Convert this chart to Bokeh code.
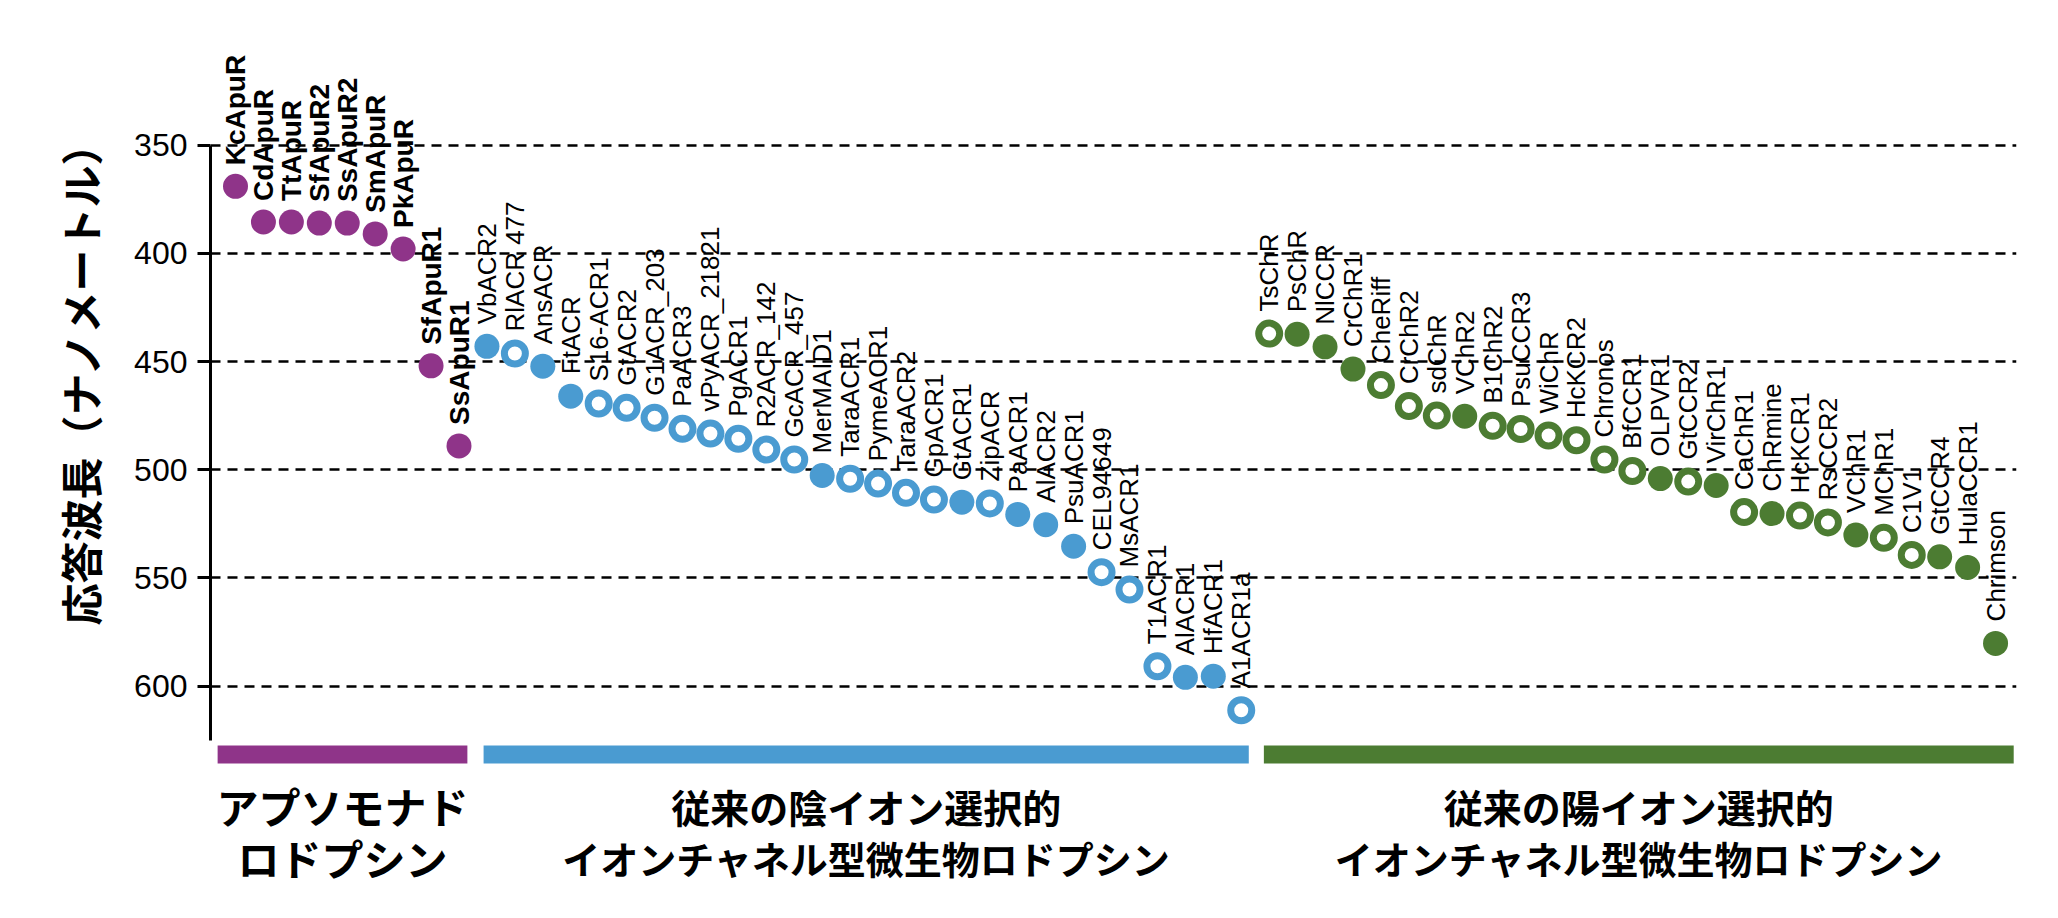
import numpy as np
from bokeh.plotting import figure
from bokeh.models import ColumnDataSource, Range1d, Title
from bokeh.core.properties import value
from bokeh.embed import file_html
from bokeh.resources import INLINE

# ---------------- data ----------------
apu_names = ["KcApuR", "CdApuR", "TtApuR", "SfApuR2", "SsApuR2", "SmApuR", "PkApuR", "SfApuR1", "SsApuR1"]
apu_nm = [369, 385.5, 385.5, 386, 386, 391, 398, 452, 489]
apu_filled = [1, 1, 1, 1, 1, 1, 1, 1, 1]

acr_names = ["VbACR2", "RlACR 477", "AnsACR", "FtACR", "S16-ACR1", "GtACR2", "G1ACR_203", "PaACR3",
             "vPyACR_21821", "PgACR1", "R2ACR_142", "GcACR_457", "MerMAID1", "TaraACR1", "PymeACR1",
             "TaraACR2", "GpACR1", "GtACR1", "ZipACR", "PaACR1", "AlACR2", "PsuACR1", "CEL94649",
             "MsACR1", "T1ACR1", "AlACR1", "HfACR1", "A1ACR1a"]
acr_nm = [443, 446.3, 452.2, 466, 469.4, 471.4, 476, 481.1, 483.3, 485.7, 490.7, 495.3, 502.7, 504.2,
          506.4, 510.7, 513.8, 515, 515.6, 520.7, 525.4, 535.4, 547.4, 555.4, 590.9, 596, 595.5, 611.2]
acr_filled = [1, 0, 1, 1, 0, 0, 0, 0, 0, 0, 0, 0, 1, 0, 0, 0, 0, 1, 0, 1, 1, 1, 0, 0, 0, 1, 1, 0]

ccr_names = ["TsChR", "PsChR", "NlCCR", "CrChR1", "CheRiff", "CrChR2", "sdChR", "VChR2", "B1ChR2",
             "PsuCCR3", "WiChR", "HcKCR2", "Chronos", "BfCCR1", "OLPVR1", "GtCCR2", "VirChR1", "CaChR1",
             "ChRmine", "HcKCR1", "RsCCR2", "VChR1", "MChR1", "C1V1", "GtCCR4", "HulaCCR1", "Chrimson"]
ccr_nm = [437.1, 437.4, 443.2, 453.5, 460.9, 470.6, 475, 475.3, 479.7, 481.2, 484.2, 486.4, 495.3,
          500.6, 504.1, 505.5, 507.3, 519.6, 520.3, 521.2, 524.4, 530.2, 531.5, 539.4, 540.3, 545.2, 580.3]
ccr_filled = [0, 1, 1, 1, 0, 0, 0, 1, 0, 0, 0, 0, 0, 0, 1, 0, 1, 0, 1, 0, 0, 1, 0, 0, 1, 1, 1]

group_line1 = ["アプソモナド", "従来の陰イオン選択的", "従来の陽イオン選択的"]
group_line2 = ["ロドプシン", "イオンチャネル型微生物ロドプシン", "イオンチャネル型微生物ロドプシン"]
y_ticks = [350, 400, 450, 500, 550, 600]
y_title = "応答波長（ナノメートル）"

# ---------------- style ----------------
colors = ["#8F3489", "#4A9BD1", "#4C7C32"]
bar_pad = [(-0.64, 0.30), (-0.12, 0.27), (-0.19, 0.65)]
group_font_size = [("42px", "42px"), ("39px", "38px"), ("39px", "38px")]

p = figure(width=2038, height=905,
           x_range=Range1d(-0.895, 63.75), y_range=Range1d(701.0, 291.9),
           x_axis_location=None, toolbar_location=None, output_backend="svg",
           min_border_left=210, min_border_right=22, min_border_top=19, min_border_bottom=1)
p.outline_line_color = None
p.background_fill_color = "white"
p.xgrid.visible = False

p.yaxis.ticker = y_ticks
p.yaxis.bounds = (350, 625)
p.yaxis.axis_line_width = 3
p.yaxis.axis_line_color = "black"
p.yaxis.major_tick_line_width = 3
p.yaxis.major_tick_line_color = "black"
p.yaxis.major_tick_out = 13
p.yaxis.major_tick_in = 0
p.yaxis.minor_tick_line_color = None
p.yaxis.major_label_text_font = "Liberation Sans"
p.yaxis.major_label_text_font_size = "32px"
p.yaxis.major_label_text_color = "black"
p.yaxis.major_label_standoff = 10

p.ygrid.grid_line_color = "black"
p.ygrid.grid_line_width = 2.5
p.ygrid.grid_line_dash = "10 7"

groups = [(apu_names, apu_nm, apu_filled), (acr_names, acr_nm, acr_filled), (ccr_names, ccr_nm, ccr_filled)]
start = 0
for gi, (names, nm, filled) in enumerate(groups):
    n = len(names)
    xs = list(range(start, start + n))
    src = ColumnDataSource(dict(x=xs, y=nm, name=names, filled=filled))
    fx = [x for x, f in zip(xs, filled) if f]
    fy = [y for y, f in zip(nm, filled) if f]
    ox = [x for x, f in zip(xs, filled) if not f]
    oy = [y for y, f in zip(nm, filled) if not f]
    c = colors[gi]
    if ox:
        p.scatter(ox, oy, size=21, fill_color="white", line_color=c, line_width=7)
    if fx:
        p.scatter(fx, fy, size=25, fill_color=c, line_color=None)
    if gi == 0:
        p.text(x="x", y="y", text="name", source=src, angle=np.pi / 2, text_align="left",
               text_baseline="middle", y_offset=-21, text_font=value("Liberation Sans"),
               text_font_size="28px", text_font_style="bold", text_color="black")
    else:
        p.text(x="x", y="y", text="name", source=src, angle=np.pi / 2, text_align="left",
               text_baseline="middle", y_offset=-22, text_font=value("Liberation Sans"),
               text_font_size="26px", text_color="black")
    left = xs[0] + bar_pad[gi][0]
    right = xs[-1] + bar_pad[gi][1]
    p.quad(left=[left], right=[right], top=[627.5], bottom=[635.8], fill_color=c, line_color=None)
    cx = (left + right) / 2
    p.text(x=[cx], y=[655.3], text=[group_line1[gi]], text_align="center", text_baseline="middle",
           text_font=value("Noto Sans CJK JP"), text_font_style="bold",
           text_font_size=group_font_size[gi][0], text_color="black")
    p.text(x=[cx], y=[679.2], text=[group_line2[gi]], text_align="center", text_baseline="middle",
           text_font=value("Noto Sans CJK JP"), text_font_style="bold",
           text_font_size=group_font_size[gi][1], text_color="black")
    start += n

p.add_layout(Title(text=y_title, align="right", offset=102, standoff=42, vertical_align="middle",
                   text_font="Noto Sans CJK JP", text_font_style="bold",
                   text_font_size="42px", text_color="black"), "left")

open("out.html", "w").write(file_html(p, INLINE))
